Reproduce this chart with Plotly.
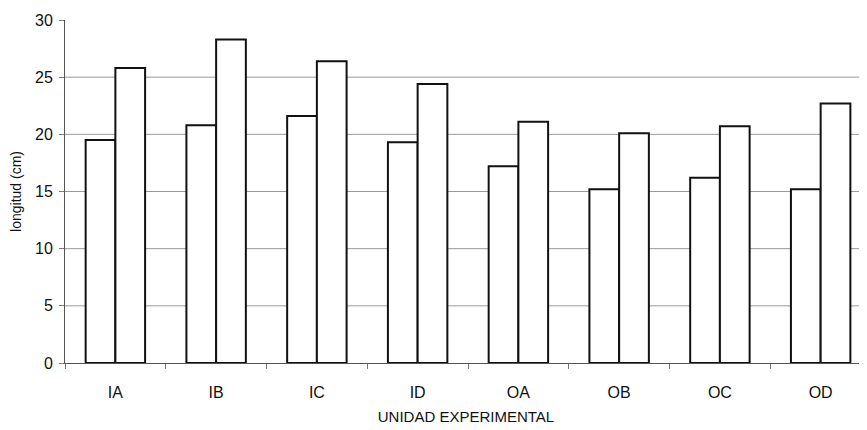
import plotly.graph_objects as go

categories = ["IA", "IB", "IC", "ID", "OA", "OB", "OC", "OD"]
serie_1 = [19.5, 20.8, 21.6, 19.3, 17.2, 15.2, 16.2, 15.2]
serie_2 = [25.8, 28.3, 26.4, 24.4, 21.1, 20.1, 20.7, 22.7]
y_ticks = [0, 5, 10, 15, 20, 25, 30]
grid_values = [5, 10, 15, 20, 25]

font = "Liberation Sans, Arial, sans-serif"

fig = go.Figure()
for vals in (serie_1, serie_2):
    fig.add_trace(go.Bar(
        x=categories, y=vals,
        marker=dict(color="white", line=dict(color="#111111", width=2)),
        showlegend=False,
    ))

for v in grid_values:
    fig.add_shape(type="line", xref="paper", yref="y", x0=0, x1=1, y0=v, y1=v,
                  line=dict(color="#9a9a9a", width=1), layer="below")

# page body has an 8px default margin, so the figure is shrunk and shifted accordingly
fig.update_layout(
    width=859, height=422,
    margin=dict(l=57, r=0, t=12, b=67),
    paper_bgcolor="white", plot_bgcolor="white",
    barmode="group", bargap=0.41, bargroupgap=0,
    font=dict(family=font, color="#111111", size=15),
    xaxis=dict(
        range=[-0.5, 7.46], automargin=False,
        showline=True, linecolor="#555555", linewidth=1,
        ticks="outside", tickson="boundaries", ticklen=5, tickcolor="#777777",
        showgrid=False,
        tickfont=dict(size=16), ticklabelstandoff=15,
        title=dict(text="UNIDAD EXPERIMENTAL", font=dict(size=15), standoff=11),
    ),
    yaxis=dict(
        range=[0, 30], tickvals=y_ticks, automargin=False,
        showline=True, linecolor="#555555", linewidth=1,
        ticks="outside", ticklen=5, tickcolor="#777777",
        showgrid=False, zeroline=False,
        tickfont=dict(size=16), ticklabelstandoff=3,
        title=dict(text="longitud (cm)", font=dict(size=14), standoff=13),
    ),
)

fig.write_html("out.html")
